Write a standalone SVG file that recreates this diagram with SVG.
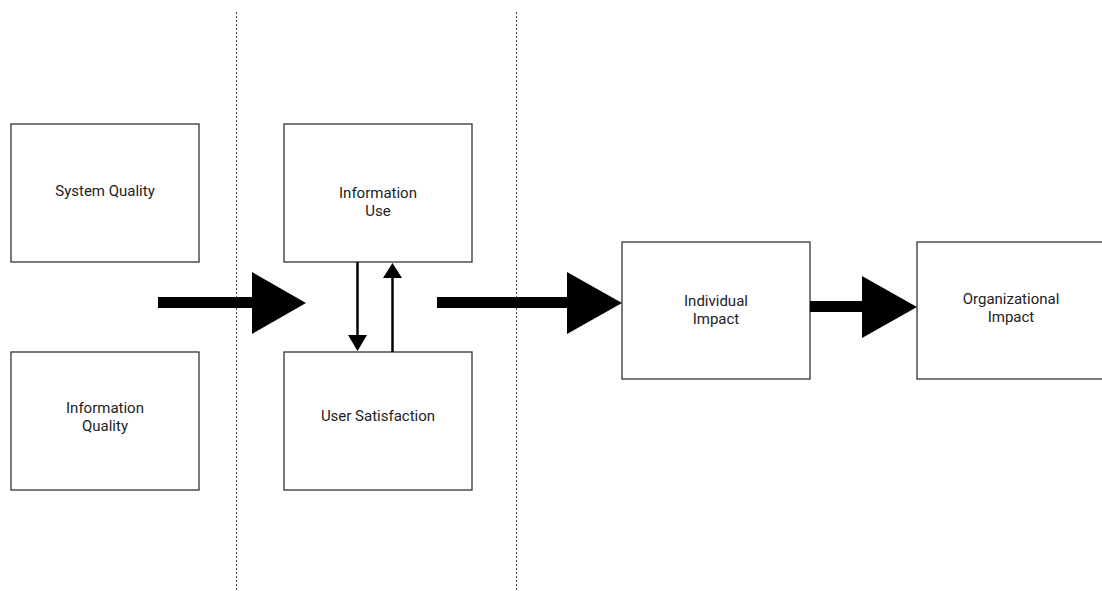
<svg xmlns="http://www.w3.org/2000/svg" width="1102" height="591" viewBox="0 0 1102 591">
<style>
.box{fill:#fff;stroke:#333;stroke-width:1.3}
.lbl{font-family:Roboto,"Liberation Sans",sans-serif;font-size:15px;fill:#222;text-anchor:middle}
.sep{stroke:#444;stroke-width:1;stroke-dasharray:2,2;fill:none}
.thin{stroke:#000;stroke-width:2.5;fill:none}
.head{fill:#000}
</style>
<rect width="1102" height="591" fill="#fff"/>
<g id="separators">
<line class="sep" x1="236.5" y1="12" x2="236.5" y2="591"/>
<line class="sep" x1="516.5" y1="12" x2="516.5" y2="591"/>
</g>
<g id="node-system-quality">
<rect class="box" x="11" y="124" width="188" height="138"/>
<text class="lbl" x="105" y="196">System Quality</text>
</g>
<g id="node-information-quality">
<rect class="box" x="11" y="352" width="188" height="138"/>
<text class="lbl" x="105" y="413">Information</text>
<text class="lbl" x="105" y="431">Quality</text>
</g>
<g id="node-information-use">
<rect class="box" x="284" y="124" width="188" height="138"/>
<text class="lbl" x="378" y="198">Information</text>
<text class="lbl" x="378" y="216">Use</text>
</g>
<g id="node-user-satisfaction">
<rect class="box" x="284" y="352" width="188" height="138"/>
<text class="lbl" x="378" y="421">User Satisfaction</text>
</g>
<g id="node-individual-impact">
<rect class="box" x="622" y="242" width="188" height="137"/>
<text class="lbl" x="716" y="306">Individual</text>
<text class="lbl" x="716" y="324">Impact</text>
</g>
<g id="node-organizational-impact">
<rect class="box" x="917" y="242" width="188" height="137"/>
<text class="lbl" x="1011" y="304">Organizational</text>
<text class="lbl" x="1011" y="322">Impact</text>
</g>
<g id="connectors">
<rect x="158" y="297" width="95" height="11" fill="#000"/>
<polygon class="head" points="252,272 306,303 252,334"/>
<rect x="437" y="297" width="131" height="11" fill="#000"/>
<polygon class="head" points="567,272 622,303 567,334"/>
<rect x="810" y="301" width="53" height="11" fill="#000"/>
<polygon class="head" points="862,276 917,307 862,338"/>
<line class="thin" x1="357.5" y1="262" x2="357.5" y2="336"/>
<polygon class="head" points="348,335 367,335 357.5,351"/>
<line class="thin" x1="392.5" y1="352" x2="392.5" y2="277"/>
<polygon class="head" points="383,278 402,278 392.5,263"/>
</g>
</svg>
